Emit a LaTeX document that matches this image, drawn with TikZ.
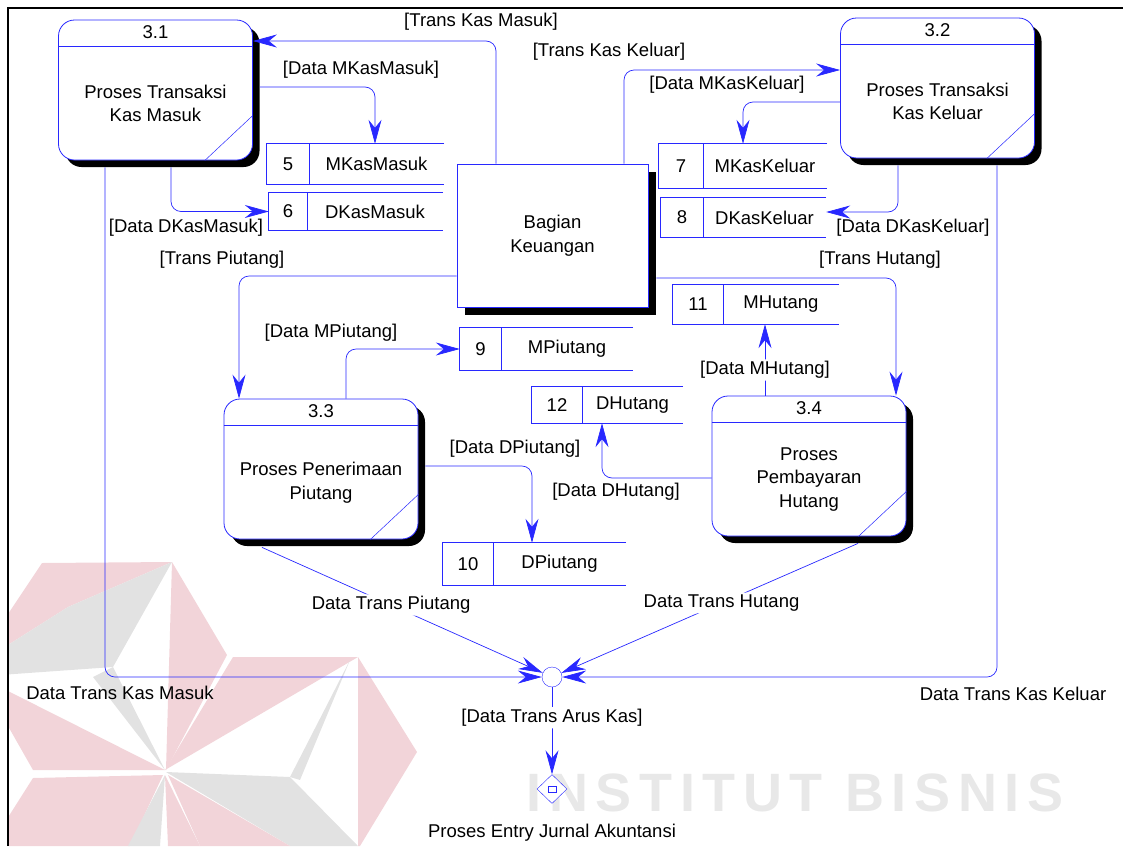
\documentclass[tikz,border=0pt]{standalone}
\usepackage{fontspec}
\setmainfont{Liberation Sans}
\usetikzlibrary{arrows.meta,shadows,shapes.geometric,fit,positioning}
\definecolor{dfdblue}{RGB}{40,40,255}
\definecolor{logopink}{RGB}{242,212,217}
\definecolor{logogray}{RGB}{226,226,226}
\definecolor{markgray}{RGB}{232,232,232}
\tikzset{
    every node/.style={font=\fontsize{18.5}{23.5}\selectfont, inner sep=1pt},
    proc/.style={draw=dfdblue, fill=white, rounded corners=16pt, line width=0.8pt,
        minimum width=194pt, minimum height=140pt,
        drop shadow={shadow xshift=7pt, shadow yshift=-7pt, fill=black, opacity=1}},
    entity/.style={draw=dfdblue, fill=white, line width=0.8pt, align=center,
        minimum width=191pt, minimum height=143pt,
        drop shadow={shadow xshift=8pt, shadow yshift=-8pt, fill=black, opacity=1}},
    edge/.style={draw=dfdblue, line width=0.7pt},
    flow/.style={draw=dfdblue, line width=0.7pt, rounded corners=10pt,
        -{Stealth[length=24pt, width=13pt, inset=8pt]}},
    lbl/.style={fill=white, inner sep=2pt}
}
\begin{document}
\begin{tikzpicture}[x=1pt, y=-1pt]
    \useasboundingbox (0,0) rectangle (1123,846);

    % watermark
    \begin{scope}
        \clip (8,0) rectangle (1123,846);
        \fill[logopink] (42,563) -- (172,562) -- (68,607) -- (0,650) -- (0,626) -- cycle;
        \fill[logogray] (172,562) -- (68,607) -- (0,650) -- (0,675) -- (113,667) -- cycle;
        \fill[logogray] (93,677) -- (113,667) -- (165,770) -- cycle;
        \fill[logopink] (172,562) -- (227,655) -- (166,770) -- cycle;
        \fill[logopink] (233,657) -- (358,657) -- (165,770) -- cycle;
        \fill[logopink] (358,657) -- (417,752) -- (360,846) -- (358,846) -- cycle;
        \fill[logopink] (0,687) -- (165,770) -- (33,770) -- (0,712) -- cycle;
        \fill[logopink] (33,778) -- (163,775) -- (130,846) -- (0,846) -- (0,830) -- cycle;
        \fill[logopink] (165,775) -- (200,846) -- (168,846) -- cycle;
        \fill[logogray] (290,777) -- (350,660) -- (300,780) -- cycle;
        \fill[logogray] (166,772) -- (290,777) -- (358,846) -- (290,846) -- cycle;
        \fill[logopink] (168,775) -- (290,846) -- (200,846) -- cycle;
        \fill[logogray] (165,775) -- (160,846) -- (128,846) -- cycle;
    \end{scope}
    \node[text=markgray, font=\fontsize{54}{54}\bfseries\addfontfeatures{LetterSpace=14}\selectfont] (mark) at (795,793) {INSTITUT BISNIS};

    \draw[line width=1.5pt] (8,846) -- (8,8) -- (1123,8);

    % processes
    \foreach \nm/\x/\y/\num/\txt in {31/155.5/90/3.1/{Proses Transaksi\\Kas Masuk},
                                    32/937.5/88/3.2/{Proses Transaksi\\Kas Keluar},
                                    33/321/469/3.3/{Proses Penerimaan\\Piutang},
                                    34/809/466/3.4/{Proses\\Pembayaran\\Hutang}} {
        \node[proc] (p\nm) at (\x,\y) {};
        \draw[edge] ([yshift=-27pt]p\nm.north west) -- ([yshift=-27pt]p\nm.north east);
        \draw[edge, line width=0.5pt] ([xshift=-48pt]p\nm.south east) -- ([yshift=45pt]p\nm.south east);
        \node (n\nm) at ([yshift=-13pt]p\nm.north) {\num};
        \node[align=center] (t\nm) at ([yshift=-13.5pt]p\nm.center) {\txt};
    }

    \node[entity] (bk) at (552.5,235.5) {Bagian\\Keuangan};

    % data stores
    \foreach \nm/\xa/\xd/\xb/\ya/\yb/\txt in {5/267/309/444/144/184/MKasMasuk,
                                             6/269/307/443/193/230/DKasMasuk,
                                             7/659/703/827/144/188/MKasKeluar,
                                             8/661/703/826/198/237/DKasKeluar,
                                             9/460/501/633/328/370/MPiutang,
                                             10/443/493/626/543/585/DPiutang,
                                             11/673/723/839/285/324/MHutang,
                                             12/532/582/683/387/423/DHutang} {
        \node[fit={(\xa,\ya) (\xb,\yb)}, inner sep=0pt] (s\nm) {};
        \draw[edge] (s\nm.north east) -- (s\nm.north west) -- (s\nm.south west) -- (s\nm.south east);
        \draw[edge] (\xd,\ya) -- (\xd,\yb);
        \node (k\nm) at ({(\xa+\xd)/2},{(\ya+\yb)/2}) {\nm};
        \node (m\nm) at ({(\xd+\xb)/2},{(\ya+\yb)/2}) {\txt};
    }

    \node[circle, draw=dfdblue, fill=white, minimum size=20pt, inner sep=0pt] (jn) at (552,677) {};
    \node[diamond, draw=dfdblue, fill=white, minimum width=30pt, minimum height=29pt, inner sep=0pt] (je) at (552,789) {};
    \node[draw=dfdblue, minimum width=8pt, minimum height=6pt, inner sep=0pt] (jb) at (je) {};

    % flows
    \draw[flow] ([xshift=-56.5pt]bk.north) |- ([yshift=49pt]p31.east);
    \draw[flow] ([xshift=71.5pt]bk.north) |- ([yshift=18pt]p32.west);
    \draw[flow] ([xshift=7pt,yshift=3pt]p31.east) -| ([xshift=19.5pt]s5.north);
    \draw[flow] ([xshift=15.5pt,yshift=-7pt]p31.south) |- (s6.west);
    \draw[flow] ([yshift=-14pt]p32.west) -| (s7.north);
    \draw[flow] ([xshift=-39.5pt,yshift=-7pt]p32.south) |- ([yshift=5.5pt]s8.east);
    \draw[flow] ([yshift=-40.5pt]bk.west) -| ([xshift=-82pt]p33.north);
    \draw[flow] ([xshift=8pt,yshift=-42.5pt]bk.east) -| ([xshift=87pt]p34.north);
    \draw[flow] ([xshift=25pt]p33.north) |- (s9.west);
    \draw[flow] ([xshift=7pt,yshift=3pt]p33.east) -| ([xshift=-2.5pt]s10.north);
    \draw[flow] ([xshift=-44pt]p34.north) -- node[lbl, pos=0.36] (l11) {[Data MHutang]} ([xshift=9pt]s11.south);
    \draw[flow] ([yshift=-12pt]p34.west) -| ([xshift=-5.5pt]s12.south);
    \draw[flow] ([xshift=-50.5pt,yshift=-7pt]p31.south) |- (jn.west);
    \draw[flow] ([xshift=59.5pt,yshift=-7pt]p32.south) |- (jn.east);
    \draw[flow] ([xshift=-59pt,yshift=-8pt]p33.south) -- node[lbl, pos=0.46] (l13) {Data Trans Piutang} (jn);
    \draw[flow] ([xshift=49pt,yshift=-7pt]p34.south) -- node[lbl, pos=0.46] (l14) {Data Trans Hutang} (jn);
    \draw[flow] (jn) -- node[lbl, pos=0.35] (l15) {[Data Trans Arus Kas]} (je);

    % labels
    \node (q1) at (481,22) {[Trans Kas Masuk]};
    \node (q2) at (609,52) {[Trans Kas Keluar]};
    \node (q3) at (361,70) {[Data MKasMasuk]};
    \node (q4) at (186,228) {[Data DKasMasuk]};
    \node (q5) at (727,85) {[Data MKasKeluar]};
    \node (q6) at (913,228) {[Data DKasKeluar]};
    \node (q7) at (222,260) {[Trans Piutang]};
    \node (q8) at (880,260) {[Trans Hutang]};
    \node (q9) at (331,333) {[Data MPiutang]};
    \node (q10) at (515,449) {[Data DPiutang]};
    \node (q11) at (616,492) {[Data DHutang]};
    \node (q12) at (120,693) {Data Trans Kas Masuk};
    \node (q13) at (1013,694) {Data Trans Kas Keluar};
    \node (q14) at (552,833) {Proses Entry Jurnal Akuntansi};
\end{tikzpicture}
\end{document}
